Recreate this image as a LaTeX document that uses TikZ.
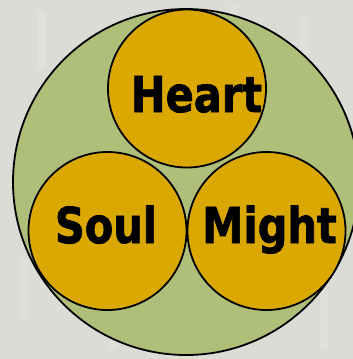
\documentclass[tikz,border=0pt]{standalone}
\usepackage{fontspec}
\newfontfamily\lblfont{DejaVu Sans Bold}[FakeBold=1.6]
\definecolor{bgc}{HTML}{DCDCD6}
\definecolor{bgl}{HTML}{DFE0DB}
\definecolor{greenc}{HTML}{AFBE78}
\definecolor{goldc}{HTML}{DAA800}
\begin{document}
\begin{tikzpicture}[x=1pt,y=-1pt,
  ring/.style={circle,draw=black,line width=1.8pt,inner sep=0pt},
  outer/.style={ring,fill=greenc,minimum size=346pt},
  inner/.style={ring,fill=goldc,minimum size=158pt},
  lbl/.style={anchor=base,inner sep=0pt,xscale=0.84,font=\lblfont\fontsize{49.4}{50}\selectfont}]
\useasboundingbox (0,0) rectangle (353,359);
\clip (0,0) rectangle (353,359);
\fill[bgc] (0,0) rectangle (353,359);
\foreach \x/\y/\h in {38/10/60,110/120/70,300/20/80,20/260/60,110/300/50,320/290/60,70/60/30,230/5/20}
  \fill[bgl] (\x,\y) rectangle ++(8,\h);
\node[outer] (whole) at (186,182) {};
\node[inner] (heart) at (187,88.5) {};
\node[inner] (soul) at (107.5,231) {};
\node[inner] (might) at (266.5,231) {};
\node[lbl] (theart) at (196.5,112) {Heart};
\node[lbl] (tsoul) at (106,243) {Soul};
\node[lbl] (tmight) at (269.5,243) {Might};
\end{tikzpicture}
\end{document}
